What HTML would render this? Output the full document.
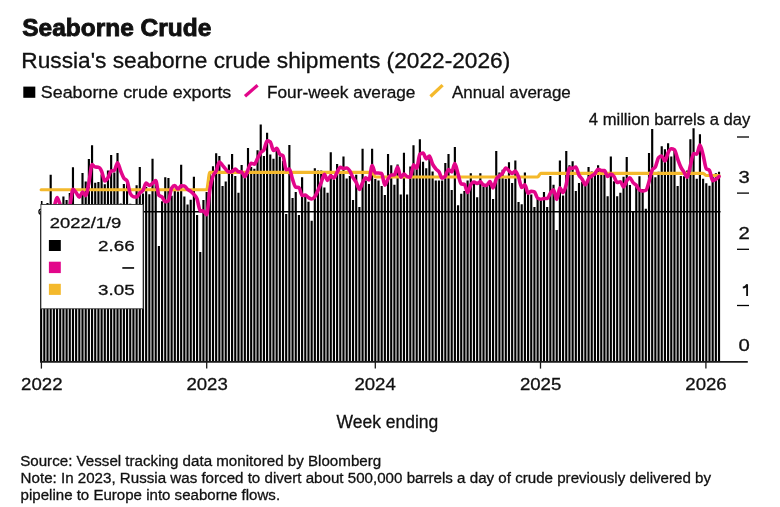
<!DOCTYPE html>
<html><head><meta charset="utf-8"><style>
html,body{margin:0;padding:0;background:#fff;width:780px;height:507px;overflow:hidden}
svg{position:absolute;left:0;top:0;font-family:"Liberation Sans",sans-serif;will-change:transform}
</style></head><body>
<svg width="780" height="507" viewBox="0 0 780 507">
<path d="M40.06 212.0H42.21V361.4H40.06ZM43.24 245.0H45.39V361.4H43.24ZM46.43 203.0H48.58V361.4H46.43ZM49.61 174.8H51.76V361.4H49.61ZM52.79 205.2H54.94V361.4H52.79ZM55.97 207.0H58.12V361.4H55.97ZM59.16 232.0H61.31V361.4H59.16ZM62.34 196.6H64.49V361.4H62.34ZM65.52 200.0H67.67V361.4H65.52ZM68.70 193.1H70.85V361.4H68.70ZM71.89 167.3H74.04V361.4H71.89ZM75.07 210.0H77.22V361.4H75.07ZM78.25 218.0H80.40V361.4H78.25ZM81.43 173.1H83.58V361.4H81.43ZM84.62 181.4H86.77V361.4H84.62ZM87.80 158.9H89.95V361.4H87.80ZM90.98 145.2H93.13V361.4H90.98ZM94.16 182.8H96.31V361.4H94.16ZM97.35 182.1H99.50V361.4H97.35ZM100.53 174.5H102.68V361.4H100.53ZM103.71 184.2H105.86V361.4H103.71ZM106.89 170.4H109.04V361.4H106.89ZM110.08 154.9H112.23V361.4H110.08ZM113.26 172.4H115.41V361.4H113.26ZM116.44 153.1H118.59V361.4H116.44ZM119.62 203.5H121.78V361.4H119.62ZM122.81 183.9H124.96V361.4H122.81ZM125.99 183.0H128.14V361.4H125.99ZM129.17 203.7H131.32V361.4H129.17ZM132.36 216.0H134.51V361.4H132.36ZM135.54 185.2H137.69V361.4H135.54ZM138.72 166.9H140.87V361.4H138.72ZM141.90 193.4H144.05V361.4H141.90ZM145.09 187.0H147.24V361.4H145.09ZM148.27 194.2H150.42V361.4H148.27ZM151.45 158.7H153.60V361.4H151.45ZM154.63 182.0H156.78V361.4H154.63ZM157.82 246.0H159.97V361.4H157.82ZM161.00 201.3H163.15V361.4H161.00ZM164.18 177.3H166.33V361.4H164.18ZM167.36 178.0H169.51V361.4H167.36ZM170.55 195.8H172.70V361.4H170.55ZM173.73 191.0H175.88V361.4H173.73ZM176.91 191.5H179.06V361.4H176.91ZM180.09 164.7H182.24V361.4H180.09ZM183.28 196.6H185.43V361.4H183.28ZM186.46 204.5H188.61V361.4H186.46ZM189.64 199.7H191.79V361.4H189.64ZM192.82 176.8H194.97V361.4H192.82ZM196.01 215.0H198.16V361.4H196.01ZM199.19 252.0H201.34V361.4H199.19ZM202.37 200.0H204.52V361.4H202.37ZM205.56 191.9H207.71V361.4H205.56ZM208.74 173.0H210.89V361.4H208.74ZM211.92 166.2H214.07V361.4H211.92ZM215.10 153.2H217.25V361.4H215.10ZM218.29 156.0H220.44V361.4H218.29ZM221.47 186.0H223.62V361.4H221.47ZM224.65 181.6H226.80V361.4H224.65ZM227.83 164.4H229.98V361.4H227.83ZM231.02 154.1H233.17V361.4H231.02ZM234.20 175.9H236.35V361.4H234.20ZM237.38 192.8H239.53V361.4H237.38ZM240.56 165.0H242.71V361.4H240.56ZM243.75 173.0H245.90V361.4H243.75ZM246.93 147.9H249.08V361.4H246.93ZM250.11 167.0H252.26V361.4H250.11ZM253.29 168.8H255.44V361.4H253.29ZM256.48 150.2H258.63V361.4H256.48ZM259.66 124.4H261.81V361.4H259.66ZM262.84 156.0H264.99V361.4H262.84ZM266.02 132.8H268.17V361.4H266.02ZM269.21 154.6H271.36V361.4H269.21ZM272.39 158.7H274.54V361.4H272.39ZM275.57 147.5H277.72V361.4H275.57ZM278.75 156.4H280.90V361.4H278.75ZM281.94 160.8H284.09V361.4H281.94ZM285.12 214.0H287.27V361.4H285.12ZM288.30 144.9H290.45V361.4H288.30ZM291.49 198.1H293.64V361.4H291.49ZM294.67 191.9H296.82V361.4H294.67ZM297.85 215.0H300.00V361.4H297.85ZM301.03 177.2H303.18V361.4H301.03ZM304.22 196.3H306.37V361.4H304.22ZM307.40 201.7H309.55V361.4H307.40ZM310.58 220.8H312.73V361.4H310.58ZM313.76 168.3H315.91V361.4H313.76ZM316.95 170.6H319.10V361.4H316.95ZM320.13 170.6H322.28V361.4H320.13ZM323.31 187.5H325.46V361.4H323.31ZM326.49 192.8H328.64V361.4H326.49ZM329.68 152.3H331.83V361.4H329.68ZM332.86 179.5H335.01V361.4H332.86ZM336.04 164.0H338.19V361.4H336.04ZM339.22 173.3H341.37V361.4H339.22ZM342.41 156.4H344.56V361.4H342.41ZM345.59 178.6H347.74V361.4H345.59ZM348.77 175.9H350.92V361.4H348.77ZM351.95 199.9H354.10V361.4H351.95ZM355.14 174.7H357.29V361.4H355.14ZM358.32 207.0H360.47V361.4H358.32ZM361.50 148.8H363.65V361.4H361.50ZM364.69 180.4H366.84V361.4H364.69ZM367.87 183.9H370.02V361.4H367.87ZM371.05 148.8H373.20V361.4H371.05ZM374.23 179.0H376.38V361.4H374.23ZM377.42 180.4H379.57V361.4H377.42ZM380.60 186.0H382.75V361.4H380.60ZM383.78 195.0H385.93V361.4H383.78ZM386.96 154.1H389.11V361.4H386.96ZM390.15 165.3H392.30V361.4H390.15ZM393.33 184.8H395.48V361.4H393.33ZM396.51 164.4H398.66V361.4H396.51ZM399.69 194.6H401.84V361.4H399.69ZM402.88 152.8H405.03V361.4H402.88ZM406.06 194.6H408.21V361.4H406.06ZM409.24 166.5H411.39V361.4H409.24ZM412.42 145.2H414.57V361.4H412.42ZM415.61 166.2H417.76V361.4H415.61ZM418.79 139.2H420.94V361.4H418.79ZM421.97 161.7H424.12V361.4H421.97ZM425.15 168.3H427.30V361.4H425.15ZM428.34 155.0H430.49V361.4H428.34ZM431.52 171.5H433.67V361.4H431.52ZM434.70 180.4H436.85V361.4H434.70ZM437.88 180.4H440.03V361.4H437.88ZM441.07 180.4H443.22V361.4H441.07ZM444.25 163.0H446.40V361.4H444.25ZM447.43 154.1H449.58V361.4H447.43ZM450.62 190.1H452.77V361.4H450.62ZM453.80 147.0H455.95V361.4H453.80ZM456.98 205.2H459.13V361.4H456.98ZM460.16 193.7H462.31V361.4H460.16ZM463.35 191.0H465.50V361.4H463.35ZM466.53 180.4H468.68V361.4H466.53ZM469.71 173.3H471.86V361.4H469.71ZM472.89 183.0H475.04V361.4H472.89ZM476.08 197.2H478.23V361.4H476.08ZM479.26 173.3H481.41V361.4H479.26ZM482.44 186.6H484.59V361.4H482.44ZM485.62 184.8H487.77V361.4H485.62ZM488.81 181.0H490.96V361.4H488.81ZM491.99 199.0H494.14V361.4H491.99ZM495.17 151.1H497.32V361.4H495.17ZM498.35 172.4H500.50V361.4H498.35ZM501.54 169.7H503.69V361.4H501.54ZM504.72 178.8H506.87V361.4H504.72ZM507.90 162.3H510.05V361.4H507.90ZM511.08 183.0H513.23V361.4H511.08ZM514.27 160.5H516.42V361.4H514.27ZM517.45 202.0H519.60V361.4H517.45ZM520.63 204.3H522.78V361.4H520.63ZM523.82 172.4H525.97V361.4H523.82ZM527.00 193.7H529.15V361.4H527.00ZM530.18 194.6H532.33V361.4H530.18ZM533.36 207.0H535.51V361.4H533.36ZM536.55 197.2H538.70V361.4H536.55ZM539.73 198.1H541.88V361.4H539.73ZM542.91 191.9H545.06V361.4H542.91ZM546.09 207.0H548.24V361.4H546.09ZM549.28 175.9H551.43V361.4H549.28ZM552.46 184.8H554.61V361.4H552.46ZM555.64 230.0H557.79V361.4H555.64ZM558.82 160.5H560.97V361.4H558.82ZM562.01 195.4H564.16V361.4H562.01ZM565.19 151.1H567.34V361.4H565.19ZM568.37 165.3H570.52V361.4H568.37ZM571.55 161.2H573.70V361.4H571.55ZM574.74 191.0H576.89V361.4H574.74ZM577.92 183.0H580.07V361.4H577.92ZM581.10 182.0H583.25V361.4H581.10ZM584.28 183.2H586.43V361.4H584.28ZM587.47 167.0H589.62V361.4H587.47ZM590.65 171.5H592.80V361.4H590.65ZM593.83 173.3H595.98V361.4H593.83ZM597.01 165.3H599.16V361.4H597.01ZM600.20 172.0H602.35V361.4H600.20ZM603.38 172.0H605.53V361.4H603.38ZM606.56 196.3H608.71V361.4H606.56ZM609.75 156.4H611.90V361.4H609.75ZM612.93 181.2H615.08V361.4H612.93ZM616.11 196.3H618.26V361.4H616.11ZM619.29 192.8H621.44V361.4H619.29ZM622.48 176.8H624.63V361.4H622.48ZM625.66 156.9H627.81V361.4H625.66ZM628.84 185.0H630.99V361.4H628.84ZM632.02 212.0H634.17V361.4H632.02ZM635.21 187.0H637.36V361.4H635.21ZM638.39 176.2H640.54V361.4H638.39ZM641.57 189.0H643.72V361.4H641.57ZM644.75 208.8H646.90V361.4H644.75ZM647.94 153.1H650.09V361.4H647.94ZM651.12 128.9H653.27V361.4H651.12ZM654.30 177.2H656.45V361.4H654.30ZM657.48 171.7H659.63V361.4H657.48ZM660.67 146.2H662.82V361.4H660.67ZM663.85 149.2H666.00V361.4H663.85ZM667.03 143.3H669.18V361.4H667.03ZM670.21 156.5H672.36V361.4H670.21ZM673.40 150.0H675.55V361.4H673.40ZM676.58 186.1H678.73V361.4H676.58ZM679.76 176.0H681.91V361.4H679.76ZM682.95 176.3H685.10V361.4H682.95ZM686.13 170.4H688.28V361.4H686.13ZM689.31 139.3H691.46V361.4H689.31ZM692.49 128.3H694.64V361.4H692.49ZM695.68 178.7H697.83V361.4H695.68ZM698.86 134.2H701.01V361.4H698.86ZM702.04 178.7H704.19V361.4H702.04ZM705.22 183.2H707.37V361.4H705.22ZM708.41 185.8H710.56V361.4H708.41ZM711.59 175.0H713.74V361.4H711.59ZM714.77 173.3H716.92V361.4H714.77ZM717.95 171.8H720.10V361.4H717.95Z" fill="#000"/>
<line x1="40" y1="211.7" x2="720.5" y2="211.7" stroke="#000" stroke-width="1.5"/>
<path d="M41.14 189.70C42.20 189.70 43.26 189.70 44.32 189.70C45.38 189.70 46.44 189.70 47.50 189.70C48.56 189.70 49.62 189.70 50.68 189.70C51.74 189.70 52.80 189.70 53.87 189.70C54.93 189.70 55.99 189.70 57.05 189.70C58.11 189.70 59.17 189.70 60.23 189.70C61.29 189.70 62.35 189.70 63.41 189.70C64.47 189.70 65.53 189.70 66.60 189.70C67.66 189.70 68.72 189.70 69.78 189.70C70.84 189.70 71.90 189.70 72.96 189.70C74.02 189.70 75.08 189.70 76.14 189.70C77.20 189.70 78.27 189.70 79.33 189.70C80.39 189.70 81.45 189.70 82.51 189.70C83.57 189.70 84.63 189.70 85.69 189.70C86.75 189.70 87.81 189.70 88.87 189.70C89.93 189.70 91.00 189.70 92.06 189.70C93.12 189.70 94.18 189.70 95.24 189.70C96.30 189.70 97.36 189.70 98.42 189.70C99.48 189.70 100.54 189.70 101.60 189.70C102.67 189.70 103.73 189.70 104.79 189.70C105.85 189.70 106.91 189.70 107.97 189.70C109.03 189.70 110.09 189.70 111.15 189.70C112.21 189.70 113.27 189.70 114.33 189.70C115.40 189.70 116.46 189.70 117.52 189.70C118.58 189.70 119.64 189.70 120.70 189.70C121.76 189.70 122.82 189.70 123.88 189.70C124.94 189.70 126.00 189.70 127.07 189.70C128.13 189.70 129.19 189.70 130.25 189.70C131.31 189.70 132.37 189.70 133.43 189.70C134.49 189.70 135.55 189.70 136.61 189.70C137.67 189.70 138.73 189.70 139.80 189.70C140.86 189.70 141.92 189.70 142.98 189.70C144.04 189.70 145.10 189.70 146.16 189.70C147.22 189.70 148.28 189.70 149.34 189.70C150.40 189.70 151.47 189.70 152.53 189.70C153.59 189.70 154.65 189.70 155.71 189.70C156.77 189.70 157.83 189.70 158.89 189.70C159.95 189.70 161.01 189.70 162.07 189.70C163.13 189.70 164.20 189.70 165.26 189.70C166.32 189.70 167.38 189.70 168.44 189.70C169.50 189.70 170.56 189.70 171.62 189.70C172.68 189.70 173.74 189.70 174.80 189.70C175.87 189.70 176.93 189.70 177.99 189.70C179.05 189.70 180.11 189.70 181.17 189.70C182.23 189.70 183.29 189.70 184.35 189.70C185.41 189.70 186.47 189.70 187.53 189.70C188.60 189.70 189.66 189.70 190.72 189.70C191.78 189.70 192.84 189.70 193.90 189.70C194.96 189.70 196.02 189.70 197.08 189.70C198.14 189.70 199.20 189.70 200.26 189.70C201.33 189.70 202.39 189.70 203.45 189.70C204.51 189.70 205.57 189.70 206.63 189.70C207.69 189.70 208.75 172.30 209.81 172.30C210.87 172.30 211.93 172.30 213.00 172.30C214.06 172.30 215.12 172.30 216.18 172.30C217.24 172.30 218.30 172.30 219.36 172.30C220.42 172.30 221.48 172.30 222.54 172.30C223.60 172.30 224.66 172.30 225.73 172.30C226.79 172.30 227.85 172.30 228.91 172.30C229.97 172.30 231.03 172.30 232.09 172.30C233.15 172.30 234.21 172.30 235.27 172.30C236.33 172.30 237.40 172.30 238.46 172.30C239.52 172.30 240.58 172.30 241.64 172.30C242.70 172.30 243.76 172.30 244.82 172.30C245.88 172.30 246.94 172.30 248.00 172.30C249.06 172.30 250.13 172.30 251.19 172.30C252.25 172.30 253.31 172.30 254.37 172.30C255.43 172.30 256.49 172.30 257.55 172.30C258.61 172.30 259.67 172.30 260.73 172.30C261.80 172.30 262.86 172.30 263.92 172.30C264.98 172.30 266.04 172.30 267.10 172.30C268.16 172.30 269.22 172.30 270.28 172.30C271.34 172.30 272.40 172.30 273.46 172.30C274.53 172.30 275.59 172.30 276.65 172.30C277.71 172.30 278.77 172.30 279.83 172.30C280.89 172.30 281.95 172.30 283.01 172.30C284.07 172.30 285.13 172.30 286.20 172.30C287.26 172.30 288.32 172.30 289.38 172.30C290.44 172.30 291.50 172.30 292.56 172.30C293.62 172.30 294.68 172.30 295.74 172.30C296.80 172.30 297.86 172.30 298.93 172.30C299.99 172.30 301.05 172.30 302.11 172.30C303.17 172.30 304.23 172.30 305.29 172.30C306.35 172.30 307.41 172.30 308.47 172.30C309.53 172.30 310.60 172.30 311.66 172.30C312.72 172.30 313.78 172.30 314.84 172.30C315.90 172.30 316.96 172.30 318.02 172.30C319.08 172.30 320.14 172.30 321.20 172.30C322.26 172.30 323.33 172.30 324.39 172.30C325.45 172.30 326.51 172.30 327.57 172.30C328.63 172.30 329.69 172.30 330.75 172.30C331.81 172.30 332.87 172.30 333.93 172.30C335.00 172.30 336.06 172.30 337.12 172.30C338.18 172.30 339.24 172.30 340.30 172.30C341.36 172.30 342.42 172.30 343.48 172.30C344.54 172.30 345.60 172.30 346.66 172.30C347.73 172.30 348.79 172.30 349.85 172.30C350.91 172.30 351.97 172.30 353.03 172.30C354.09 172.30 355.15 172.30 356.21 172.30C357.27 172.30 358.33 172.30 359.39 172.30C360.46 172.30 361.52 172.30 362.58 172.30C363.64 172.30 364.70 172.30 365.76 172.30C366.82 172.30 367.88 172.30 368.94 172.30C370.00 172.30 371.06 172.30 372.13 172.30C373.19 172.30 374.25 177.00 375.31 177.00C376.37 177.00 377.43 177.00 378.49 177.00C379.55 177.00 380.61 177.00 381.67 177.00C382.73 177.00 383.79 177.00 384.86 177.00C385.92 177.00 386.98 177.00 388.04 177.00C389.10 177.00 390.16 177.00 391.22 177.00C392.28 177.00 393.34 177.00 394.40 177.00C395.46 177.00 396.53 177.00 397.59 177.00C398.65 177.00 399.71 177.00 400.77 177.00C401.83 177.00 402.89 177.00 403.95 177.00C405.01 177.00 406.07 177.00 407.13 177.00C408.19 177.00 409.26 177.00 410.32 177.00C411.38 177.00 412.44 177.00 413.50 177.00C414.56 177.00 415.62 177.00 416.68 177.00C417.74 177.00 418.80 177.00 419.86 177.00C420.93 177.00 421.99 177.00 423.05 177.00C424.11 177.00 425.17 177.00 426.23 177.00C427.29 177.00 428.35 177.00 429.41 177.00C430.47 177.00 431.53 177.00 432.59 177.00C433.66 177.00 434.72 177.00 435.78 177.00C436.84 177.00 437.90 177.00 438.96 177.00C440.02 177.00 441.08 177.00 442.14 177.00C443.20 177.00 444.26 177.00 445.33 177.00C446.39 177.00 447.45 177.00 448.51 177.00C449.57 177.00 450.63 177.00 451.69 177.00C452.75 177.00 453.81 177.00 454.87 177.00C455.93 177.00 456.99 177.00 458.06 177.00C459.12 177.00 460.18 177.00 461.24 177.00C462.30 177.00 463.36 177.00 464.42 177.00C465.48 177.00 466.54 177.00 467.60 177.00C468.66 177.00 469.73 177.00 470.79 177.00C471.85 177.00 472.91 177.00 473.97 177.00C475.03 177.00 476.09 177.00 477.15 177.00C478.21 177.00 479.27 177.00 480.33 177.00C481.39 177.00 482.46 177.00 483.52 177.00C484.58 177.00 485.64 177.00 486.70 177.00C487.76 177.00 488.82 177.00 489.88 177.00C490.94 177.00 492.00 177.00 493.06 177.00C494.13 177.00 495.19 177.00 496.25 177.00C497.31 177.00 498.37 177.00 499.43 177.00C500.49 177.00 501.55 177.00 502.61 177.00C503.67 177.00 504.73 177.00 505.79 177.00C506.86 177.00 507.92 177.00 508.98 177.00C510.04 177.00 511.10 177.00 512.16 177.00C513.22 177.00 514.28 177.00 515.34 177.00C516.40 177.00 517.46 177.00 518.53 177.00C519.59 177.00 520.65 177.00 521.71 177.00C522.77 177.00 523.83 177.00 524.89 177.00C525.95 177.00 527.01 177.00 528.07 177.00C529.13 177.00 530.19 177.00 531.26 177.00C532.32 177.00 533.38 177.00 534.44 177.00C535.50 177.00 536.56 177.00 537.62 177.00C538.68 177.00 539.74 173.30 540.80 173.30C541.86 173.30 542.92 173.30 543.99 173.30C545.05 173.30 546.11 173.30 547.17 173.30C548.23 173.30 549.29 173.30 550.35 173.30C551.41 173.30 552.47 173.30 553.53 173.30C554.59 173.30 555.66 173.30 556.72 173.30C557.78 173.30 558.84 173.30 559.90 173.30C560.96 173.30 562.02 173.30 563.08 173.30C564.14 173.30 565.20 173.30 566.26 173.30C567.32 173.30 568.39 173.30 569.45 173.30C570.51 173.30 571.57 173.30 572.63 173.30C573.69 173.30 574.75 173.30 575.81 173.30C576.87 173.30 577.93 173.30 578.99 173.30C580.06 173.30 581.12 173.30 582.18 173.30C583.24 173.30 584.30 173.30 585.36 173.30C586.42 173.30 587.48 173.30 588.54 173.30C589.60 173.30 590.66 173.30 591.72 173.30C592.79 173.30 593.85 173.30 594.91 173.30C595.97 173.30 597.03 173.30 598.09 173.30C599.15 173.30 600.21 173.30 601.27 173.30C602.33 173.30 603.39 173.30 604.46 173.30C605.52 173.30 606.58 173.30 607.64 173.30C608.70 173.30 609.76 173.30 610.82 173.30C611.88 173.30 612.94 173.30 614.00 173.30C615.06 173.30 616.12 173.30 617.19 173.30C618.25 173.30 619.31 173.30 620.37 173.30C621.43 173.30 622.49 173.30 623.55 173.30C624.61 173.30 625.67 173.30 626.73 173.30C627.79 173.30 628.86 173.30 629.92 173.30C630.98 173.30 632.04 173.30 633.10 173.30C634.16 173.30 635.22 173.30 636.28 173.30C637.34 173.30 638.40 173.30 639.46 173.30C640.52 173.30 641.59 173.30 642.65 173.30C643.71 173.30 644.77 173.30 645.83 173.30C646.89 173.30 647.95 173.30 649.01 173.30C650.07 173.30 651.13 173.30 652.19 173.30C653.26 173.30 654.32 173.30 655.38 173.30C656.44 173.30 657.50 173.30 658.56 173.30C659.62 173.30 660.68 173.30 661.74 173.30C662.80 173.30 663.86 173.30 664.92 173.30C665.99 173.30 667.05 173.30 668.11 173.30C669.17 173.30 670.23 173.30 671.29 173.30C672.35 173.30 673.41 173.30 674.47 173.30C675.53 173.30 676.59 173.30 677.65 173.30C678.72 173.30 679.78 173.30 680.84 173.30C681.90 173.30 682.96 173.30 684.02 173.30C685.08 173.30 686.14 173.30 687.20 173.30C688.26 173.30 689.32 173.30 690.39 173.30C691.45 173.30 692.51 173.30 693.57 173.30C694.63 173.30 695.69 173.30 696.75 173.30C697.81 173.30 698.87 173.30 699.93 173.30C700.99 173.30 702.05 173.30 703.12 173.30C704.18 173.30 705.24 175.50 706.30 175.50C707.36 175.50 708.42 175.50 709.48 175.50C710.54 175.50 711.60 175.50 712.66 175.50C713.72 175.50 714.79 175.50 715.85 175.50C716.91 175.50 717.97 175.50 719.03 175.50" fill="none" stroke="#f4b92c" stroke-width="3.15" stroke-linejoin="round" stroke-linecap="round"/>
<path d="M50.68 208.70C51.74 208.13 52.80 208.13 53.87 207.00C54.93 205.87 55.99 197.50 57.05 197.50C58.11 197.50 59.17 202.63 60.23 204.75C61.29 206.87 62.35 210.20 63.41 210.20C64.47 210.20 65.53 209.70 66.60 208.90C67.66 208.10 68.72 207.74 69.78 205.43C70.84 203.11 71.90 189.25 72.96 189.25C74.02 189.25 75.08 191.29 76.14 192.60C77.20 193.91 78.27 197.10 79.33 197.10C80.39 197.10 81.45 192.10 82.51 192.10C83.57 192.10 84.63 195.62 85.69 195.62C86.75 195.62 87.81 188.01 88.87 182.85C89.93 177.69 91.00 164.65 92.06 164.65C93.12 164.65 94.18 166.96 95.24 167.07C96.30 167.19 97.36 167.13 98.42 167.25C99.48 167.37 100.54 168.88 101.60 171.15C102.67 173.43 103.73 180.90 104.79 180.90C105.85 180.90 106.91 179.45 107.97 177.80C109.03 176.15 110.09 171.35 111.15 171.00C112.21 170.65 113.27 170.82 114.33 170.47C115.40 170.12 116.46 162.70 117.52 162.70C118.58 162.70 119.64 168.39 120.70 170.97C121.76 173.56 122.82 176.57 123.88 178.22C124.94 179.88 126.00 179.11 127.07 180.88C128.13 182.64 129.19 191.44 130.25 193.53C131.31 195.61 132.37 196.43 133.43 196.65C134.49 196.87 135.55 196.98 136.61 196.98C137.67 196.98 138.73 194.05 139.80 192.95C140.86 191.85 141.92 192.01 142.98 190.38C144.04 188.74 145.10 183.12 146.16 183.12C147.22 183.12 148.28 185.38 149.34 185.38C150.40 185.38 151.47 184.14 152.53 183.32C153.59 182.51 154.65 180.47 155.71 180.47C156.77 180.47 157.83 194.04 158.89 195.22C159.95 196.41 161.01 195.93 162.07 197.00C163.13 198.07 164.20 201.65 165.26 201.65C166.32 201.65 167.38 201.32 168.44 200.65C169.50 199.98 170.56 189.82 171.62 188.10C172.68 186.38 173.74 185.53 174.80 185.53C175.87 185.53 176.93 189.07 177.99 189.07C179.05 189.07 180.11 185.75 181.17 185.75C182.23 185.75 183.29 185.82 184.35 185.95C185.41 186.08 186.47 188.42 187.53 189.32C188.60 190.23 189.66 190.53 190.72 191.38C191.78 192.22 192.84 193.13 193.90 194.40C194.96 195.67 196.02 196.25 197.08 199.00C198.14 201.75 199.20 210.83 200.26 210.88C201.33 210.92 202.39 210.90 203.45 210.95C204.51 211.00 205.57 214.72 206.63 214.72C207.69 214.72 208.75 196.45 209.81 190.00C210.87 183.55 211.93 179.15 213.00 176.00C214.06 172.85 215.12 173.39 216.18 171.07C217.24 168.76 218.30 162.10 219.36 162.10C220.42 162.10 221.48 164.17 222.54 165.35C223.60 166.53 224.66 168.09 225.73 169.20C226.79 170.31 227.85 172.00 228.91 172.00C229.97 172.00 231.03 171.84 232.09 171.53C233.15 171.21 234.21 169.00 235.27 169.00C236.33 169.00 237.40 171.70 238.46 171.80C239.52 171.90 240.58 171.85 241.64 171.95C242.70 172.05 243.76 176.68 244.82 176.68C245.88 176.68 246.94 171.92 248.00 169.67C249.06 167.43 250.13 163.22 251.19 163.22C252.25 163.22 253.31 164.18 254.37 164.18C255.43 164.18 256.49 160.40 257.55 158.47C258.61 156.55 259.67 154.04 260.73 152.60C261.80 151.16 262.86 151.68 263.92 149.85C264.98 148.02 266.04 140.85 267.10 140.85C268.16 140.85 269.22 141.22 270.28 141.95C271.34 142.68 272.40 150.53 273.46 150.53C274.53 150.53 275.59 148.40 276.65 148.40C277.71 148.40 278.77 153.27 279.83 154.30C280.89 155.33 281.95 154.82 283.01 155.85C284.07 156.88 285.13 169.68 286.20 169.68C287.26 169.68 288.32 169.03 289.38 169.03C290.44 169.03 291.50 176.42 292.56 179.45C293.62 182.48 294.68 187.06 295.74 187.22C296.80 187.39 297.86 187.31 298.93 187.47C299.99 187.64 301.05 195.55 302.11 195.55C303.17 195.55 304.23 195.10 305.29 195.10C306.35 195.10 307.41 196.90 308.47 197.55C309.53 198.20 310.60 199.00 311.66 199.00C312.72 199.00 313.78 198.22 314.84 196.78C315.90 195.33 316.96 192.72 318.02 190.35C319.08 187.98 320.14 185.26 321.20 182.57C322.26 179.89 323.33 174.25 324.39 174.25C325.45 174.25 326.51 180.38 327.57 180.38C328.63 180.38 329.69 175.80 330.75 175.80C331.81 175.80 332.87 178.03 333.93 178.03C335.00 178.03 336.06 173.94 337.12 172.15C338.18 170.36 339.24 167.28 340.30 167.28C341.36 167.28 342.42 168.30 343.48 168.30C344.54 168.30 345.60 168.07 346.66 168.07C347.73 168.07 348.79 169.45 349.85 171.05C350.91 172.65 351.97 175.83 353.03 177.70C354.09 179.57 355.15 180.33 356.21 182.28C357.27 184.22 358.33 189.38 359.39 189.38C360.46 189.38 361.52 184.54 362.58 182.60C363.64 180.66 364.70 177.72 365.76 177.72C366.82 177.72 367.88 180.03 368.94 180.03C370.00 180.03 371.06 165.48 372.13 165.48C373.19 165.48 374.25 173.03 375.31 173.03C376.37 173.03 377.43 173.03 378.49 173.03C379.55 173.03 380.61 173.20 381.67 173.55C382.73 173.90 383.79 185.10 384.86 185.10C385.92 185.10 386.98 180.54 388.04 178.88C389.10 177.21 390.16 175.30 391.22 175.10C392.28 174.90 393.34 175.00 394.40 174.80C395.46 174.60 396.53 167.15 397.59 167.15C398.65 167.15 399.71 177.28 400.77 177.28C401.83 177.28 402.89 174.15 403.95 174.15C405.01 174.15 406.07 176.25 407.13 176.60C408.19 176.95 409.26 177.12 410.32 177.12C411.38 177.12 412.44 164.78 413.50 164.78C414.56 164.78 415.62 168.12 416.68 168.12C417.74 168.12 418.80 155.07 419.86 154.27C420.93 153.47 421.99 153.07 423.05 153.07C424.11 153.07 425.17 158.85 426.23 158.85C427.29 158.85 428.35 156.05 429.41 156.05C430.47 156.05 431.53 162.00 432.59 164.12C433.66 166.25 434.72 167.52 435.78 168.80C436.84 170.08 437.90 170.26 438.96 171.82C440.02 173.39 441.08 178.18 442.14 178.18C443.20 178.18 444.26 177.47 445.33 176.05C446.39 174.63 447.45 169.47 448.51 169.47C449.57 169.47 450.63 171.90 451.69 171.90C452.75 171.90 453.81 163.55 454.87 163.55C455.93 163.55 456.99 170.69 458.06 174.10C459.12 177.51 460.18 183.85 461.24 184.00C462.30 184.15 463.36 184.07 464.42 184.22C465.48 184.38 466.54 192.57 467.60 192.57C468.66 192.57 469.73 186.38 470.79 184.60C471.85 182.83 472.91 181.93 473.97 181.93C475.03 181.93 476.09 183.47 477.15 183.47C478.21 183.47 479.27 181.70 480.33 181.70C481.39 181.70 482.46 184.73 483.52 185.03C484.58 185.32 485.64 185.47 486.70 185.47C487.76 185.47 488.82 181.43 489.88 181.43C490.94 181.43 492.00 187.85 493.06 187.85C494.13 187.85 495.19 180.97 496.25 178.97C497.31 176.98 498.37 176.86 499.43 175.88C500.49 174.89 501.55 174.36 502.61 173.05C503.67 171.74 504.73 168.00 505.79 168.00C506.86 168.00 507.92 169.89 508.98 170.80C510.04 171.71 511.10 173.45 512.16 173.45C513.22 173.45 514.28 171.15 515.34 171.15C516.40 171.15 517.46 174.23 518.53 176.95C519.59 179.67 520.65 187.45 521.71 187.45C522.77 187.45 523.83 184.80 524.89 184.80C525.95 184.80 527.01 193.10 528.07 193.10C529.13 193.10 530.19 191.25 531.26 191.25C532.32 191.25 533.38 191.47 534.44 191.93C535.50 192.38 536.56 197.39 537.62 198.12C538.68 198.86 539.74 199.22 540.80 199.22C541.86 199.22 542.92 198.55 543.99 198.55C545.05 198.55 546.11 198.55 547.17 198.55C548.23 198.55 549.29 194.67 550.35 193.22C551.41 191.78 552.47 189.90 553.53 189.90C554.59 189.90 555.66 199.43 556.72 199.43C557.78 199.43 558.84 187.80 559.90 187.80C560.96 187.80 562.02 192.68 563.08 192.68C564.14 192.68 565.20 188.35 566.26 184.25C567.32 180.15 568.39 168.07 569.45 168.07C570.51 168.07 571.57 168.25 572.63 168.25C573.69 168.25 574.75 167.15 575.81 167.15C576.87 167.15 577.93 173.10 578.99 175.12C580.06 177.15 581.12 177.69 582.18 179.30C583.24 180.91 584.30 184.80 585.36 184.80C586.42 184.80 587.48 180.28 588.54 178.80C589.60 177.32 590.66 176.77 591.72 175.93C592.79 175.08 593.85 174.86 594.91 173.75C595.97 172.64 597.03 169.28 598.09 169.28C599.15 169.28 600.21 170.44 601.27 170.53C602.33 170.61 603.39 170.57 604.46 170.65C605.52 170.73 606.58 176.40 607.64 176.40C608.70 176.40 609.76 174.17 610.82 174.17C611.88 174.17 612.94 175.08 614.00 176.47C615.06 177.87 616.12 182.55 617.19 182.55C618.25 182.55 619.31 181.68 620.37 181.68C621.43 181.68 622.49 186.78 623.55 186.78C624.61 186.78 625.67 182.18 626.73 180.70C627.79 179.22 628.86 177.88 629.92 177.88C630.98 177.88 632.04 181.45 633.10 182.68C634.16 183.90 635.22 184.00 636.28 185.22C637.34 186.45 638.40 189.38 639.46 190.05C640.52 190.72 641.59 191.05 642.65 191.05C643.71 191.05 644.77 190.78 645.83 190.25C646.89 189.72 647.95 185.16 649.01 181.78C650.07 178.39 651.13 171.92 652.19 169.95C653.26 167.98 654.32 168.97 655.38 167.00C656.44 165.03 657.50 158.88 658.56 157.72C659.62 156.57 660.68 156.00 661.74 156.00C662.80 156.00 663.86 161.07 664.92 161.07C665.99 161.07 667.05 154.65 668.11 152.60C669.17 150.55 670.23 148.80 671.29 148.80C672.35 148.80 673.41 149.12 674.47 149.75C675.53 150.38 676.59 156.08 677.65 158.97C678.72 161.88 679.78 164.96 680.84 167.15C681.90 169.34 682.96 170.43 684.02 172.10C685.08 173.78 686.14 177.20 687.20 177.20C688.26 177.20 689.32 169.44 690.39 165.50C691.45 161.56 692.51 153.58 693.57 153.58C694.63 153.58 695.69 154.18 696.75 154.18C697.81 154.18 698.87 145.12 699.93 145.12C700.99 145.12 702.05 151.05 703.12 154.97C704.18 158.90 705.24 167.52 706.30 168.70C707.36 169.88 708.42 169.29 709.48 170.47C710.54 171.66 711.60 180.68 712.66 180.68C713.72 180.68 714.79 180.02 715.85 179.32C716.91 178.62 717.97 177.43 719.03 176.48" fill="none" stroke="#e2068a" stroke-width="3.6" stroke-linejoin="round" stroke-linecap="round"/>
<line x1="40" y1="361.9" x2="747.8" y2="361.9" stroke="#1a1a1a" stroke-width="1.6"/><line x1="41.4" y1="361.4" x2="41.4" y2="368.6" stroke="#1a1a1a" stroke-width="1.3"/><line x1="206.7" y1="361.4" x2="206.7" y2="368.6" stroke="#1a1a1a" stroke-width="1.3"/><line x1="375.3" y1="361.4" x2="375.3" y2="368.6" stroke="#1a1a1a" stroke-width="1.3"/><line x1="540.5" y1="361.4" x2="540.5" y2="368.6" stroke="#1a1a1a" stroke-width="1.3"/><line x1="705.9" y1="361.4" x2="705.9" y2="368.6" stroke="#1a1a1a" stroke-width="1.3"/><line x1="737" y1="137" x2="749" y2="137" stroke="#000" stroke-width="1.3"/><line x1="737" y1="193.1" x2="749" y2="193.1" stroke="#000" stroke-width="1.3"/><line x1="737" y1="249.3" x2="749" y2="249.3" stroke="#000" stroke-width="1.3"/><line x1="737" y1="305.5" x2="749" y2="305.5" stroke="#000" stroke-width="1.3"/>
<rect x="23.3" y="86.6" width="12" height="11.2" fill="#000"/><line x1="245" y1="96.2" x2="257.6" y2="85.3" stroke="#e2068a" stroke-width="3.3" stroke-linecap="butt"/><line x1="430.5" y1="96.5" x2="442.6" y2="85.1" stroke="#f4b92c" stroke-width="3.3" stroke-linecap="butt"/>
<circle cx="41.5" cy="211.8" r="2.6" fill="none" stroke="#000" stroke-width="1.2"/><rect x="40.9" y="201" width="1.6" height="4" fill="#000"/><rect x="40.9" y="204.5" width="102.2" height="104.3" fill="#fff" stroke="#333" stroke-width="0.9"/><text x="49.8" y="228.1" font-size="15.2" fill="#111111" stroke="#111111" stroke-width="0.3" textLength="71.5" lengthAdjust="spacingAndGlyphs">2022/1/9</text><rect x="48.9" y="240" width="11.9" height="11" fill="#000"/><rect x="48.9" y="261.7" width="11.9" height="11.4" fill="#e2068a"/><rect x="48.9" y="283.8" width="11.9" height="11.1" fill="#f4b92c"/><text x="134.6" y="251" font-size="15.4" fill="#111111" stroke="#111111" stroke-width="0.3" text-anchor="end" textLength="36.5" lengthAdjust="spacingAndGlyphs">2.66</text><rect x="122.3" y="267.1" width="11.8" height="1.7" fill="#111111"/><text x="134.6" y="294.9" font-size="15.4" fill="#111111" stroke="#111111" stroke-width="0.3" text-anchor="end" textLength="36.5" lengthAdjust="spacingAndGlyphs">3.05</text>
<text x="22.2" y="35.5" font-size="24.8" font-weight="700" text-anchor="start" fill="#111111" stroke="#111111" stroke-width="0.9" textLength="189.2" lengthAdjust="spacingAndGlyphs">Seaborne Crude</text><text x="21.3" y="67.6" font-size="21.2" font-weight="400" text-anchor="start" fill="#111111" stroke="#111111" stroke-width="0.3" textLength="489" lengthAdjust="spacingAndGlyphs">Russia's seaborne crude shipments (2022-2026)</text><text x="40.8" y="97.8" font-size="17.1" font-weight="400" text-anchor="start" fill="#111111" stroke="#111111" stroke-width="0.3" textLength="190.5" lengthAdjust="spacingAndGlyphs">Seaborne crude exports</text><text x="267" y="97.8" font-size="17.1" font-weight="400" text-anchor="start" fill="#111111" stroke="#111111" stroke-width="0.3" textLength="148.4" lengthAdjust="spacingAndGlyphs">Four-week average</text><text x="451.9" y="97.8" font-size="17.1" font-weight="400" text-anchor="start" fill="#111111" stroke="#111111" stroke-width="0.3" textLength="118.9" lengthAdjust="spacingAndGlyphs">Annual average</text><text x="750.3" y="125.3" font-size="16.2" font-weight="400" text-anchor="end" fill="#111111" stroke="#111111" stroke-width="0.3" textLength="161.5" lengthAdjust="spacingAndGlyphs">4 million barrels a day</text><text x="749.8" y="182.6" font-size="17" font-weight="400" text-anchor="end" fill="#111111" stroke="#111111" stroke-width="0.3" textLength="11.3" lengthAdjust="spacingAndGlyphs">3</text><text x="749.8" y="238.8" font-size="17" font-weight="400" text-anchor="end" fill="#111111" stroke="#111111" stroke-width="0.3" textLength="11.3" lengthAdjust="spacingAndGlyphs">2</text><text x="749.8" y="350.8" font-size="17" font-weight="400" text-anchor="end" fill="#111111" stroke="#111111" stroke-width="0.3" textLength="11.3" lengthAdjust="spacingAndGlyphs">0</text><path d="M747.1 284.2V295.9M747.1 284.4C746.4 286.4 745 287.4 742.8 287.7" fill="none" stroke="#111" stroke-width="1.85"/><text x="41.8" y="390.4" font-size="17.2" font-weight="400" text-anchor="middle" fill="#111111" stroke="#111111" stroke-width="0.3" textLength="41.4" lengthAdjust="spacingAndGlyphs">2022</text><text x="207.1" y="390.4" font-size="17.2" font-weight="400" text-anchor="middle" fill="#111111" stroke="#111111" stroke-width="0.3" textLength="41.4" lengthAdjust="spacingAndGlyphs">2023</text><text x="375.1" y="390.4" font-size="17.2" font-weight="400" text-anchor="middle" fill="#111111" stroke="#111111" stroke-width="0.3" textLength="41.4" lengthAdjust="spacingAndGlyphs">2024</text><text x="540.6" y="390.4" font-size="17.2" font-weight="400" text-anchor="middle" fill="#111111" stroke="#111111" stroke-width="0.3" textLength="41.4" lengthAdjust="spacingAndGlyphs">2025</text><text x="706" y="390.4" font-size="17.2" font-weight="400" text-anchor="middle" fill="#111111" stroke="#111111" stroke-width="0.3" textLength="41.4" lengthAdjust="spacingAndGlyphs">2026</text><text x="336.5" y="427.6" font-size="17.6" font-weight="400" text-anchor="start" fill="#111111" stroke="#111111" stroke-width="0.3" textLength="101.8" lengthAdjust="spacingAndGlyphs">Week ending</text><text x="20.2" y="465.8" font-size="14.9" font-weight="400" text-anchor="start" fill="#111111" stroke="#111111" stroke-width="0.3" textLength="361" lengthAdjust="spacingAndGlyphs">Source: Vessel tracking data monitored by Bloomberg</text><text x="20.6" y="483.3" font-size="14.9" font-weight="400" text-anchor="start" fill="#111111" stroke="#111111" stroke-width="0.3" textLength="690.5" lengthAdjust="spacingAndGlyphs">Note: In 2023, Russia was forced to divert about 500,000 barrels a day of crude previously delivered by</text><text x="20.6" y="500.1" font-size="14.9" font-weight="400" text-anchor="start" fill="#111111" stroke="#111111" stroke-width="0.3" textLength="259.5" lengthAdjust="spacingAndGlyphs">pipeline to Europe into seaborne flows.</text>
</svg>
</body></html>
